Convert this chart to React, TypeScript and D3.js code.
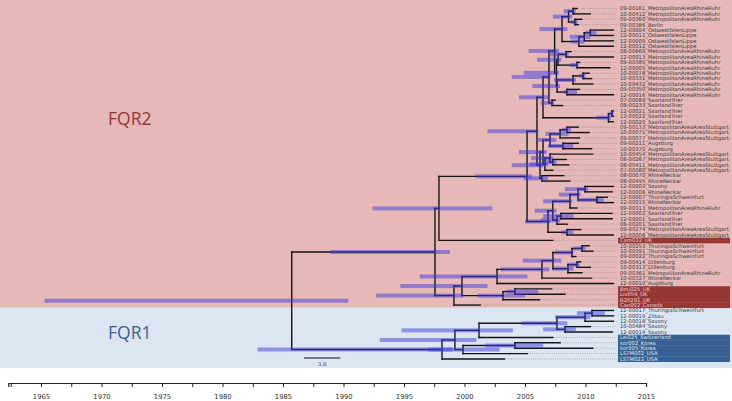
import React, { useEffect, useRef } from "react";
import * as d3 from "d3";

const tipLabels = [
  "09-00161_MetropolitanAreaRhineRuhr", "10-00412_MetropolitanAreaRhineRuhr", "09-00360_MetropolitanAreaRhineRuhr",
  "09-00386_Berlin", "12-00004_OstwestfalenLippe", "12-00011_OstwestfalenLippe", "12-00009_OstwestfalenLippe",
  "12-00012_OstwestfalenLippe", "08-00669_MetropolitanAreaRhineRuhr", "12-00013_MetropolitanAreaRhineRuhr",
  "09-00385_MetropolitanAreaRhineRuhr", "12-00005_MetropolitanAreaRhineRuhr", "10-00078_MetropolitanAreaRhineRuhr",
  "10-00331_MetropolitanAreaRhineRuhr", "10-00432_MetropolitanAreaRhineRuhr", "09-00350_MetropolitanAreaRhineRuhr",
  "12-00016_MetropolitanAreaRhineRuhr", "07-00089_SaarlandTrier", "08-00233_SaarlandTrier", "12-00021_SaarlandTrier",
  "12-00022_SaarlandTrier", "12-00020_SaarlandTrier", "09-00133_MetropolitanAreaAreaStuttgart",
  "10-00071_MetropolitanAreaAreaStuttgart", "09-00077_MetropolitanAreaAreaStuttgart", "09-00211_Augsburg",
  "10-00370_Augsburg", "10-00454_MetropolitanAreaAreaStuttgart", "08-00267_MetropolitanAreaAreaStuttgart",
  "08-00411_MetropolitanAreaAreaStuttgart", "07-00080_MetropolitanAreaAreaStuttgart", "08-00070_RhineNeckar",
  "08-00495_RhineNeckar", "12-00003_Saxony", "12-00006_RhineNeckar", "12-00007_ThuringiaSchweinfurt",
  "12-00015_RhineNeckar", "09-00313_MetropolitanAreaRhineRuhr", "12-00002_SaarlandTrier", "12-00001_SaarlandTrier",
  "08-00201_SaarlandTrier", "09-00274_MetropolitanAreaAreaStuttgart", "12-00008_MetropolitanAreaAreaStuttgart",
  "Cam032_UK", "10-00253_ThuringiaSchweinfurt", "10-00391_ThuringiaSchweinfurt", "09-00022_ThuringiaSchweinfurt",
  "09-00414_Dillenburg", "10-00313_Dillenburg", "09-00361_MetropolitanAreaRhineRuhr", "10-00327_RhineNeckar",
  "12-00010_Augsburg", "Bmi025_UK", "Liv059_UK", "R20291_UK", "Can002_Canada", "12-00017_ThuringiaSchweinfurt",
  "12-00019_Zittau", "12-00018_Saxony", "10-00484_Saxony", "12-00014_Saxony", "Lei025_Switzerland",
  "kor002_Korea", "kor005_Korea", "LSTM002_USA", "LSTM022_USA",
];

const tipDates = [
  2009.3, 2010.4, 2009.7, 2009.4, 2012.3, 2012.3, 2012.3, 2012.3, 2008.8, 2012.3,
  2009.5, 2012.0, 2010.3, 2010.5, 2010.6, 2009.5, 2012.3, 2007.5, 2008.1, 2012.3,
  2012.3, 2012.3, 2009.4, 2010.3, 2009.5, 2009.4, 2010.5, 2010.6, 2008.4, 2008.6,
  2007.3, 2008.2, 2008.7, 2012.3, 2012.2, 2011.8, 2012.3, 2009.3, 2012.2, 2012.2,
  2008.5, 2009.6, 2012.3, 2007.3, 2010.3, 2010.6, 2009.2, 2009.6, 2010.4, 2009.7,
  2010.5, 2012.3, 2007.2, 2008.3, 2006.2, 2001.3, 2012.3, 2012.3, 2012.3, 2010.4,
  2012.2, 2007.3, 2007.9, 2010.6, 2005.2, 2003.3,
];

// internal nodes in post-order: id, left child, right child (tips as "t<index>")
const nodeIds = [
  "n01", "n23", "nA03", "n45", "n456", "n47", "A", "n89", "n1011", "D", "n1213", "n1214", "n1516", "F", "E", "B",
  "S0708", "H", "S1920", "S1921", "G", "n2223", "n2224", "n2526", "nS1", "n2829", "n2729", "n2730", "nStutt", "nRN",
  "N15", "N14", "n3334", "n3536", "n3336", "n3337", "n3839", "n3840", "nA16", "n4142", "N16", "N13", "N1",
  "N8", "N9", "N10", "N11", "N12", "N7", "N6", "N5", "N4", "N3", "N2", "N0",
  "fA", "fB", "fC", "F5", "F4", "F3", "F2", "F1", "F0", "root",
];
const nodeLeft = [
  "t0", "t2", "n01", "t4", "n45", "n456", "nA03", "t8", "t10", "n89", "t12", "n1213", "t15", "n1214", "D", "A",
  "t17", "B", "t19", "S1920", "H", "t22", "n2223", "t25", "n2224", "t28", "t27", "n2729", "nS1", "t31",
  "nStutt", "G", "t33", "t35", "n3334", "n3336", "t38", "n3839", "n3337", "t41", "nA16", "N14", "N13",
  "t44", "N8", "t47", "N10", "N9", "N12", "N7", "t52", "N5", "N6", "N3", "N1",
  "t56", "fA", "t59", "fB", "F5", "t62", "F3", "F4", "F1", "N0",
];
const nodeRight = [
  "t1", "t3", "n23", "t5", "t6", "t7", "n47", "t9", "t11", "n1011", "t13", "t14", "t16", "n1516", "F", "E",
  "t18", "S0708", "t20", "t21", "S1921", "t23", "t24", "t26", "n2526", "t29", "n2829", "t30", "n2730", "t32",
  "nRN", "N15", "t34", "t36", "n3536", "t37", "t39", "t40", "n3840", "t42", "n4142", "N16", "t43",
  "t45", "t46", "t48", "t49", "N11", "t50", "t51", "t53", "t54", "N4", "t55", "N2",
  "t57", "t58", "t60", "fC", "t61", "t63", "t64", "F2", "t65", "F0",
];
const nodeDates = [
  2008.97, 2009.13, 2008.6, 2010.4, 2009.9, 2009.45, 2008.06, 2008.4, 2009.3, 2007.73, 2009.8, 2008.97, 2008.47, 2007.65, 2007.6, 2007.45,
  2007.23, 2006.98, 2012.2, 2011.9, 2006.49, 2008.47, 2007.9, 2008.14, 2007.07, 2007.3, 2007.07, 2006.65, 2006.49, 2006.4,
  2006.24, 2005.99, 2009.96, 2010.95, 2009.38, 2008.72, 2007.97, 2007.64, 2007.3, 2008.47, 2006.9, 2005.17, 1997.89,
  2009.71, 2008.88, 2009.3, 2008.55, 2007.31, 2006.4, 2002.69, 2004.17, 2003.18, 1999.79, 1999.13, 1997.56,
  2010.54, 2009.96, 2008.31, 2007.64, 2001.2, 2004.17, 1999.88, 1999.21, 1998.14, 1985.72,
];
const hpdLow = [
  2008.2, 2008.8, 2007.3, 2010.0, 2008.7, 2008.8, 2006.2, 2007.0, 2008.7, 2006.0, 2009.5, 2007.4, 2008.2, 2005.6, 2004.9, 2005.3,
  2006.3, 2003.9, 2011.9, 2010.9, 2004.5, 2008.0, 2006.7, 2006.9, 2006.0, 2006.5, 2005.5, 2005.4, 2004.5, 2004.9,
  2003.9, 2001.9, 2008.3, 2009.3, 2007.8, 2006.5, 2006.5, 2006.3, 2005.8, 2008.0, 2005.0, 2000.9, 1992.4,
  2009.0, 2007.5, 2008.5, 2007.3, 2004.8, 2003.0, 1996.3, 2003.5, 2001.1, 1994.7, 1992.7, 1988.9,
  2009.3, 2007.5, 2006.5, 2004.7, 1994.8, 2001.7, 1997.0, 1993.0, 1982.9, 1965.3,
];
const hpdHigh = [
  2009.2, 2009.35, 2008.9, 2010.9, 2010.4, 2009.9, 2008.5, 2008.6, 2009.4, 2008.0, 2010.0, 2009.2, 2009.3, 2007.9, 2007.8, 2007.8,
  2007.4, 2007.1, 2012.3, 2012.1, 2006.9, 2008.8, 2008.6, 2009.0, 2007.6, 2007.6, 2007.3, 2006.9, 2006.8, 2006.9,
  2006.5, 2006.1, 2010.2, 2011.5, 2009.6, 2008.9, 2009.0, 2007.9, 2007.6, 2009.0, 2007.1, 2005.6, 2002.3,
  2010.0, 2009.0, 2009.5, 2009.0, 2008.0, 2007.0, 2005.2, 2006.1, 2005.0, 2001.9, 1999.9, 1998.8,
  2011.6, 2010.4, 2009.2, 2008.5, 2004.0, 2006.5, 2002.9, 2001.0, 1999.0, 1990.4,
];

const redTips = ["Cam032_UK", "Bmi025_UK", "Liv059_UK", "R20291_UK", "Can002_Canada"];
const blueTips = ["Lei025_Switzerland", "kor002_Korea", "kor005_Korea", "LSTM002_USA", "LSTM022_USA"];
const groupNames = ["FQR2", "FQR1"];
const axisTicks = d3.range(1962.5, 2015.01, 2.5);
const axisLabelYears = [1965, 1970, 1975, 1980, 1985, 1990, 1995, 2000, 2005, 2010, 2015];
const scaleBarYears = 3.0;

const W = 732;
const H = 401;

export default function App() {
  const axisRef = useRef<SVGGElement>(null);

  const x = d3.scaleLinear().domain([1965, 2015]).range([41, 646]);
  const y = d3.scaleLinear().domain([0, tipLabels.length - 1]).range([8.5, 359]);
  const xAxisScale = d3.scaleLinear().domain([1962.3, 2015]).range([x(1962.3), x(2015)]);

  const pos: Record<string, { x: number; y: number }> = {};
  tipLabels.forEach((_, i) => {
    pos["t" + i] = { x: x(tipDates[i]), y: y(i) };
  });
  nodeIds.forEach((id, i) => {
    const a = pos[nodeLeft[i]];
    const b = pos[nodeRight[i]];
    pos[id] = { x: x(nodeDates[i]), y: (a.y + b.y) / 2 };
  });

  const boundary = (y(55) + y(56)) / 2;
  const labelX = 620;
  const rowH = y(1) - y(0);

  useEffect(() => {
    if (!axisRef.current) return;
    const axis = d3
      .axisBottom(xAxisScale)
      .tickValues(axisTicks)
      .tickSizeOuter(0)
      .tickSize(4)
      .tickFormat((d: any) => (axisLabelYears.includes(+d) ? String(d) : ""));
    const g = d3.select(axisRef.current);
    g.call(axis as any);
    g.select(".domain").attr("stroke", "#222").attr("stroke-width", 1.2);
    g.selectAll(".tick line").attr("stroke", "#222");
    g.selectAll(".tick text")
      .attr("font-family", "DejaVu Sans, sans-serif")
      .attr("font-size", 6.8)
      .attr("fill", "#333")
      .attr("dy", "1.3em");
  }, []);

  const redIdx = redTips.map((t) => tipLabels.indexOf(t));
  const blueIdx = blueTips.map((t) => tipLabels.indexOf(t));

  return (
    <svg width={W} height={H} style={{ position: "absolute", left: 0, top: 0 }}>
      <rect x={0} y={0} width={W} height={boundary} fill="#e6b8b7" />
      <rect x={0} y={boundary} width={W} height={368 - boundary} fill="#dce6f2" />
      <text x={108} y={125} fontFamily="Open Sans, DejaVu Sans, sans-serif" fontSize={17.5} fill="#953735">
        {groupNames[0]}
      </text>
      <text x={108} y={339} fontFamily="Open Sans, DejaVu Sans, sans-serif" fontSize={17.5} fill="#376092">
        {groupNames[1]}
      </text>

      {/* highlight boxes */}
      {redIdx.map((i) => (
        <rect key={"r" + i} x={618} y={y(i) - rowH / 2} width={112} height={rowH + 0.3} fill="#953735" />
      ))}
      {blueIdx.map((i) => (
        <rect key={"b" + i} x={618} y={y(i) - rowH / 2} width={112} height={rowH + 0.3} fill="#376092" />
      ))}

      {/* dotted tip connectors */}
      {tipLabels.map((_, i) => (
        <line
          key={"d" + i}
          x1={pos["t" + i].x}
          x2={617}
          y1={y(i)}
          y2={y(i)}
          stroke="#8c8c8c"
          strokeWidth={0.6}
          strokeDasharray="1,1.2"
        />
      ))}

      {/* branches */}
      <g stroke="#151515" strokeWidth={1.4} fill="none" strokeLinecap="square">
        {nodeIds.map((id, i) => {
          const p = pos[id];
          const a = pos[nodeLeft[i]];
          const b = pos[nodeRight[i]];
          return (
            <g key={"br" + id}>
              <line x1={p.x} x2={p.x} y1={a.y} y2={b.y} />
              <line x1={p.x} x2={a.x} y1={a.y} y2={a.y} />
              <line x1={p.x} x2={b.x} y1={b.y} y2={b.y} />
            </g>
          );
        })}
      </g>

      {/* HPD bars */}
      {nodeIds.map((id, i) => (
        <rect
          key={"h" + id}
          x={x(hpdLow[i])}
          y={pos[id].y - 2}
          width={x(hpdHigh[i]) - x(hpdLow[i])}
          height={4}
          fill="rgb(60,60,225)"
          opacity={0.5}
        />
      ))}

      {/* tip labels */}
      {tipLabels.map((t, i) => {
        const hl = redIdx.includes(i) ? "#f1d0cf" : blueIdx.includes(i) ? "#dfe8f4" : "#3a3a3a";
        return (
          <text
            key={"l" + i}
            x={labelX}
            y={y(i)}
            dy="0.35em"
            fontFamily="DejaVu Sans, sans-serif"
            fontSize={5.25}
            fill={hl}
          >
            {t}
          </text>
        );
      })}

      {/* scale bar */}
      <line x1={304} x2={304 + x(1965 + scaleBarYears) - x(1965)} y1={358} y2={358} stroke="#111" strokeWidth={1} />
      <text x={304 + (x(1965 + scaleBarYears) - x(1965)) / 2} y={366} textAnchor="middle" fontFamily="DejaVu Serif, serif" fontSize={5.5} fill="#333">
        {scaleBarYears.toFixed(1)}
      </text>

      <g ref={axisRef} transform="translate(0,383)" />
    </svg>
  );
}
